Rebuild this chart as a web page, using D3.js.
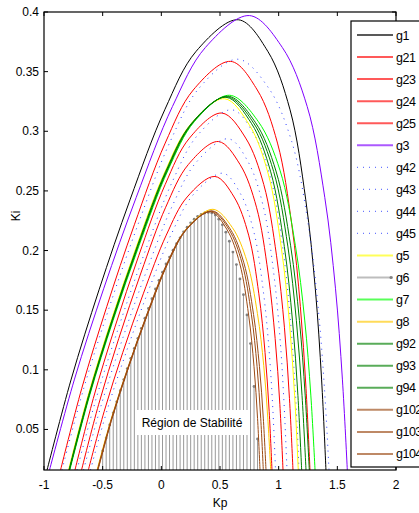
<!DOCTYPE html>
<html><head><meta charset="utf-8">
<script src="https://cdn.jsdelivr.net/npm/d3@7/dist/d3.min.js"></script>
<style>
html,body{margin:0;padding:0;background:#fff;}
text{font-family:"Liberation Sans",Arial,Helvetica,sans-serif;}
</style></head>
<body><svg id="c" width="419" height="513"></svg>
<script>
// ---------- data (Kp, Ki) ----------
const g1_Kp = [-0.974,-0.770,-0.531,-0.267,0.029,0.297,0.656,0.907,1.097,1.231,1.313,1.366,1.403];
const g1_Ki = [0.016,0.0915,0.167,0.2425,0.318,0.3671,0.3935,0.3671,0.318,0.2425,0.167,0.0915,0.016];
const g21_Kp = [-0.859,-0.678,-0.465,-0.230,0.033,0.272,0.591,0.818,0.990,1.112,1.185,1.233,1.267];
const g21_Ki = [0.016,0.0845,0.153,0.2216,0.2901,0.3346,0.3586,0.3346,0.2901,0.2216,0.153,0.0845,0.016];
const g23_Kp = [-0.736,-0.580,-0.396,-0.193,0.033,0.240,0.515,0.719,0.873,0.982,1.049,1.092,1.122];
const g23_Ki = [0.016,0.0759,0.1357,0.1956,0.2554,0.2943,0.3153,0.2943,0.2554,0.1956,0.1357,0.0759,0.016];
const g24_Kp = [-0.680,-0.534,-0.363,-0.174,0.037,0.230,0.486,0.671,0.811,0.910,0.970,1.010,1.037];
const g24_Ki = [0.016,0.0711,0.1262,0.1812,0.2363,0.2721,0.2914,0.2721,0.2363,0.1812,0.1262,0.0711,0.016];
const g25_Kp = [-0.622,-0.487,-0.329,-0.154,0.042,0.220,0.457,0.620,0.744,0.831,0.884,0.919,0.943];
const g25_Ki = [0.016,0.0652,0.1144,0.1637,0.2129,0.2449,0.2621,0.2449,0.2129,0.1637,0.1144,0.0652,0.016];
const g3_Kp = [-0.953,-0.740,-0.490,-0.214,0.095,0.376,0.751,1.031,1.243,1.393,1.484,1.543,1.585];
const g3_Ki = [0.016,0.0922,0.1684,0.2446,0.3208,0.3703,0.397,0.3703,0.3208,0.2446,0.1684,0.0922,0.016];
const g42_Kp = [-0.847,-0.660,-0.439,-0.196,0.076,0.323,0.653,0.914,1.111,1.251,1.335,1.390,1.429];
const g42_Ki = [0.016,0.0849,0.1538,0.2226,0.2915,0.3363,0.3604,0.3363,0.2915,0.2226,0.1538,0.0849,0.016];
const g43_Kp = [-0.719,-0.554,-0.360,-0.146,0.093,0.311,0.602,0.794,0.939,1.042,1.104,1.145,1.173];
const g43_Ki = [0.016,0.0764,0.1368,0.1972,0.2576,0.2969,0.318,0.2969,0.2576,0.1972,0.1368,0.0764,0.016];
const g44_Kp = [-0.663,-0.509,-0.327,-0.127,0.097,0.300,0.572,0.740,0.866,0.956,1.011,1.046,1.071];
const g44_Ki = [0.016,0.0715,0.1271,0.1826,0.2382,0.2743,0.2937,0.2743,0.2382,0.1826,0.1271,0.0715,0.016];
const g45_Kp = [-0.604,-0.463,-0.297,-0.114,0.091,0.277,0.526,0.676,0.790,0.870,0.919,0.951,0.973];
const g45_Ki = [0.016,0.0658,0.1155,0.1653,0.215,0.2474,0.2648,0.2474,0.215,0.1653,0.1155,0.0658,0.016];
const g5_Kp = [-0.791,-0.625,-0.430,-0.214,0.026,0.246,0.538,0.749,0.909,1.022,1.091,1.136,1.167];
const g5_Ki = [0.016,0.0783,0.1405,0.2028,0.265,0.3055,0.3273,0.3055,0.265,0.2028,0.1405,0.0783,0.016];
const g6_Kp = [-0.50,-0.47,-0.44,-0.41,-0.38,-0.35,-0.32,-0.29,-0.26,-0.23,-0.20,-0.17,-0.14,-0.11,-0.08,-0.05,-0.02,0.01,0.04,0.07,0.10,0.13,0.16,0.19,0.22,0.25,0.28,0.31,0.34,0.37,0.40,0.43,0.46,0.49,0.52,0.55,0.58,0.61,0.64,0.67,0.70,0.73,0.76,0.79,0.82];
const g6_Ki = [0.032,0.0429,0.0538,0.0639,0.0732,0.0825,0.0918,0.101,0.1096,0.118,0.1264,0.1348,0.1433,0.1515,0.1596,0.1678,0.175,0.1818,0.1887,0.1945,0.2003,0.2057,0.2107,0.2157,0.2196,0.2232,0.2263,0.2287,0.2304,0.2315,0.232,0.2315,0.2297,0.2263,0.2216,0.2154,0.2078,0.1987,0.1882,0.1762,0.163,0.146,0.122,0.086,0.042];
const g7_Kp = [-0.780,-0.610,-0.410,-0.189,0.057,0.282,0.581,0.826,1.011,1.142,1.222,1.274,1.310];
const g7_Ki = [0.016,0.0788,0.1417,0.2045,0.2674,0.3082,0.3302,0.3082,0.2674,0.2045,0.1417,0.0788,0.016];
const g8_Kp = [-0.548,-0.425,-0.279,-0.119,0.060,0.223,0.440,0.605,0.730,0.819,0.873,0.907,0.932];
const g8_Ki = [0.016,0.0597,0.1034,0.1472,0.1909,0.2193,0.2346,0.2193,0.1909,0.1472,0.1034,0.0597,0.016];
const g92_Kp = [-0.787,-0.620,-0.423,-0.206,0.036,0.257,0.551,0.768,0.932,1.048,1.118,1.164,1.196];
const g92_Ki = [0.016,0.0785,0.141,0.2035,0.266,0.3066,0.3285,0.3066,0.266,0.2035,0.141,0.0785,0.016];
const g93_Kp = [-0.784,-0.616,-0.419,-0.201,0.042,0.264,0.559,0.786,0.957,1.078,1.151,1.199,1.233];
const g93_Ki = [0.016,0.0786,0.1412,0.2037,0.2663,0.307,0.3289,0.307,0.2663,0.2037,0.1412,0.0786,0.016];
const g94_Kp = [-0.783,-0.614,-0.416,-0.197,0.048,0.271,0.568,0.801,0.977,1.102,1.177,1.226,1.261];
const g94_Ki = [0.016,0.0787,0.1414,0.204,0.2667,0.3075,0.3294,0.3075,0.2667,0.204,0.1414,0.0787,0.016];
const g102_Kp = [-0.544,-0.424,-0.282,-0.126,0.048,0.207,0.419,0.561,0.668,0.744,0.790,0.820,0.841];
const g102_Ki = [0.016,0.0593,0.1026,0.1459,0.1892,0.2173,0.2325,0.2173,0.1892,0.1459,0.1026,0.0593,0.016];
const g103_Kp = [-0.542,-0.421,-0.278,-0.121,0.055,0.215,0.428,0.576,0.688,0.768,0.816,0.847,0.869];
const g103_Ki = [0.016,0.0594,0.1028,0.1461,0.1895,0.2177,0.2329,0.2177,0.1895,0.1461,0.1028,0.0594,0.016];
const g104_Kp = [-0.540,-0.419,-0.276,-0.118,0.058,0.218,0.432,0.587,0.703,0.786,0.836,0.869,0.892];
const g104_Ki = [0.016,0.0595,0.1029,0.1464,0.1898,0.2181,0.2333,0.2181,0.1898,0.1464,0.1029,0.0595,0.016];

const seriesNames = ["g1","g21","g23","g24","g25","g3","g42","g43","g44","g45","g5","g6","g7","g8","g92","g93","g94","g102","g103","g104"];
const xTicks = [-1,-0.5,0,0.5,1,1.5,2];
const xTickLabels = ["-1","-0.5","0","0.5","1","1.5","2"];
const yTicks = [0.05,0.1,0.15,0.2,0.25,0.3,0.35,0.4];
const yTickLabels = ["0.05","0.1","0.15","0.2","0.25","0.3","0.35","0.4"];
const regionLabel = "Région de Stabilité";

// ---------- styles ----------
const RED="#ff0000", BLUE="#2a3cff", DG="#008000", BR="#9b4a14";
const styles = {
  g1:{c:"#000000"}, g21:{c:RED}, g23:{c:RED}, g24:{c:RED}, g25:{c:RED},
  g3:{c:"#8000ff"}, g42:{c:BLUE,d:true}, g43:{c:BLUE,d:true}, g44:{c:BLUE,d:true}, g45:{c:BLUE,d:true},
  g5:{c:"#ffff00"}, g6:{c:"#999999",stem:true}, g7:{c:"#00ff00"}, g8:{c:"#ffc800"},
  g92:{c:DG}, g93:{c:DG}, g94:{c:DG}, g102:{c:BR}, g103:{c:BR}, g104:{c:BR}
};
const dataKp = {g1:g1_Kp,g21:g21_Kp,g23:g23_Kp,g24:g24_Kp,g25:g25_Kp,g3:g3_Kp,g42:g42_Kp,g43:g43_Kp,g44:g44_Kp,g45:g45_Kp,g5:g5_Kp,g6:g6_Kp,g7:g7_Kp,g8:g8_Kp,g92:g92_Kp,g93:g93_Kp,g94:g94_Kp,g102:g102_Kp,g103:g103_Kp,g104:g104_Kp};
const dataKi = {g1:g1_Ki,g21:g21_Ki,g23:g23_Ki,g24:g24_Ki,g25:g25_Ki,g3:g3_Ki,g42:g42_Ki,g43:g43_Ki,g44:g44_Ki,g45:g45_Ki,g5:g5_Ki,g6:g6_Ki,g7:g7_Ki,g8:g8_Ki,g92:g92_Ki,g93:g93_Ki,g94:g94_Ki,g102:g102_Ki,g103:g103_Ki,g104:g104_Ki};

// ---------- layout ----------
const L=44, R=396, T=12, B=470;
const x = d3.scaleLinear().domain([-1,2]).range([L,R]);
const y = d3.scaleLinear().domain([0.016,0.4]).range([B,T]);
const svg = d3.select("#c");

svg.append("defs").append("clipPath").attr("id","pc")
  .append("rect").attr("x",L).attr("y",T).attr("width",R-L).attr("height",B-T);

const plot = svg.append("g").attr("clip-path","url(#pc)");
const line = d3.line().x(d=>x(d[0])).y(d=>y(d[1])).curve(d3.curveCatmullRom.alpha(0.5));

seriesNames.forEach(n=>{
  const st = styles[n];
  const pts = dataKp[n].map((k,i)=>[k,dataKi[n][i]]);
  if(st.stem){
    const g = plot.append("g");
    g.selectAll("line").data(pts).enter().append("line")
      .attr("x1",d=>x(d[0])).attr("x2",d=>x(d[0]))
      .attr("y1",y(0.016)+2).attr("y2",d=>y(d[1]))
      .attr("stroke",st.c).attr("stroke-width",1);
    g.selectAll("circle").data(pts).enter().append("circle")
      .attr("cx",d=>x(d[0])).attr("cy",d=>y(d[1])).attr("r",1.4)
      .attr("fill","#808080");
  } else {
    plot.append("path").datum(pts).attr("d",line)
      .attr("fill","none").attr("stroke",st.c).attr("stroke-width",1)
      .attr("stroke-dasharray",st.d?"1,5":null);
  }
});

// region label
const lab = svg.append("g");
lab.append("rect").attr("x",135).attr("y",410).attr("width",114).attr("height",25).attr("fill","#fff");
lab.append("text").attr("x",192).attr("y",427).attr("text-anchor","middle")
  .attr("font-size",12).attr("fill","#000").text(regionLabel);

// axes frame & ticks
const ax = svg.append("g").attr("stroke","#000");
ax.append("rect").attr("x",L).attr("y",T).attr("width",R-L).attr("height",B-T)
  .attr("fill","none").attr("stroke-width",1.2);
xTicks.forEach(t=>{
  ax.append("line").attr("x1",x(t)).attr("x2",x(t)).attr("y1",B).attr("y2",B-4).attr("stroke-width",1);
  ax.append("line").attr("x1",x(t)).attr("x2",x(t)).attr("y1",T).attr("y2",T+4).attr("stroke-width",1);
});
yTicks.forEach(t=>{
  ax.append("line").attr("x1",L).attr("x2",L+4).attr("y1",y(t)).attr("y2",y(t)).attr("stroke-width",1);
  ax.append("line").attr("x1",R).attr("x2",R-4).attr("y1",y(t)).attr("y2",y(t)).attr("stroke-width",1);
});
xTicks.forEach((t,i)=>{
  svg.append("text").attr("x",x(t)).attr("y",489).attr("text-anchor","middle")
    .attr("font-size",12).text(xTickLabels[i]);
});
yTicks.forEach((t,i)=>{
  svg.append("text").attr("x",39).attr("y",y(t)+4).attr("text-anchor","end")
    .attr("font-size",12).text(yTickLabels[i]);
});
svg.append("text").attr("x",220).attr("y",507).attr("text-anchor","middle").attr("font-size",12).text("Kp");
svg.append("text").attr("transform","translate(20,216) rotate(-90)").attr("text-anchor","middle").attr("font-size",12).text("Ki");

// legend
const lg = svg.append("g");
lg.append("rect").attr("x",351).attr("y",21).attr("width",90).attr("height",446)
  .attr("fill","#fff").attr("stroke","#000").attr("stroke-width",1.2);
seriesNames.forEach((n,i)=>{
  const st = styles[n];
  const yy = 35 + i*22.05;
  lg.append("line").attr("x1",357).attr("x2",393).attr("y1",yy).attr("y2",yy)
    .attr("stroke",st.c).attr("stroke-width",st.d?1.3:2).attr("stroke-opacity",st.d?0.7:0.65)
    .attr("stroke-dasharray",st.d?"1,5":null);
  if(st.stem){
    lg.append("circle").attr("cx",391).attr("cy",yy).attr("r",1.5).attr("fill","#808080");
  }
  lg.append("text").attr("x",396).attr("y",yy+4.5).attr("font-size",12.5)
    .attr("letter-spacing",-0.5).text(n);
});
</script>
</body></html>
